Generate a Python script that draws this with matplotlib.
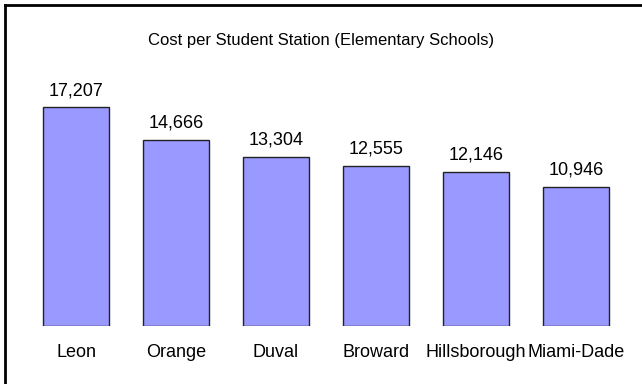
import matplotlib.pyplot as plt
from matplotlib.lines import Line2D
from matplotlib import font_manager

counties = ['Leon', 'Orange', 'Duval', 'Broward', 'Hillsborough', 'Miami-Dade']
cost = [17207, 14666, 13304, 12555, 12146, 10946]

names = {f.name for f in font_manager.fontManager.ttflist}
fam = 'Liberation Sans Narrow' if 'Liberation Sans Narrow' in names else 'Liberation Sans'
plt.rcParams['font.family'] = [fam, 'DejaVu Sans']

fig = plt.figure(figsize=(6.42, 3.84), dpi=100)
ax = fig.add_axes([26 / 642, 0.1523, 600 / 642, 0.6604])

x = range(len(counties))
bars = ax.bar(x, cost, width=0.667, color='#9999ff', edgecolor='#222222', linewidth=1.0)

# value on top of each bar
for b, v in zip(bars, cost):
    ax.annotate(f'{v:,}', (b.get_x() + b.get_width() / 2, v),
                xytext=(0, 6), textcoords='offset points',
                ha='center', va='bottom', fontsize=13)

ax.set_xlim(-0.5, len(counties) - 0.5)
ax.set_ylim(0, 20000)
ax.set_xticks(list(x))
ax.set_xticklabels(counties, fontsize=13)
ax.tick_params(axis='x', length=0, pad=13)
ax.set_yticks([])
for s in ax.spines.values():
    s.set_visible(False)

fig.text(0.5, 1 - 40 / 384, 'Cost per Student Station (Elementary Schools)',
         ha='center', va='center', fontsize=12)

# frame on the left and top edges
fig.add_artist(Line2D([5.5 / 642, 5.5 / 642], [0, 1 - 5 / 384], transform=fig.transFigure,
                      color='black', linewidth=2))
fig.add_artist(Line2D([5.5 / 642, 1], [1 - 5 / 384, 1 - 5 / 384], transform=fig.transFigure,
                      color='black', linewidth=2))

fig.savefig('out.png', dpi=100)
